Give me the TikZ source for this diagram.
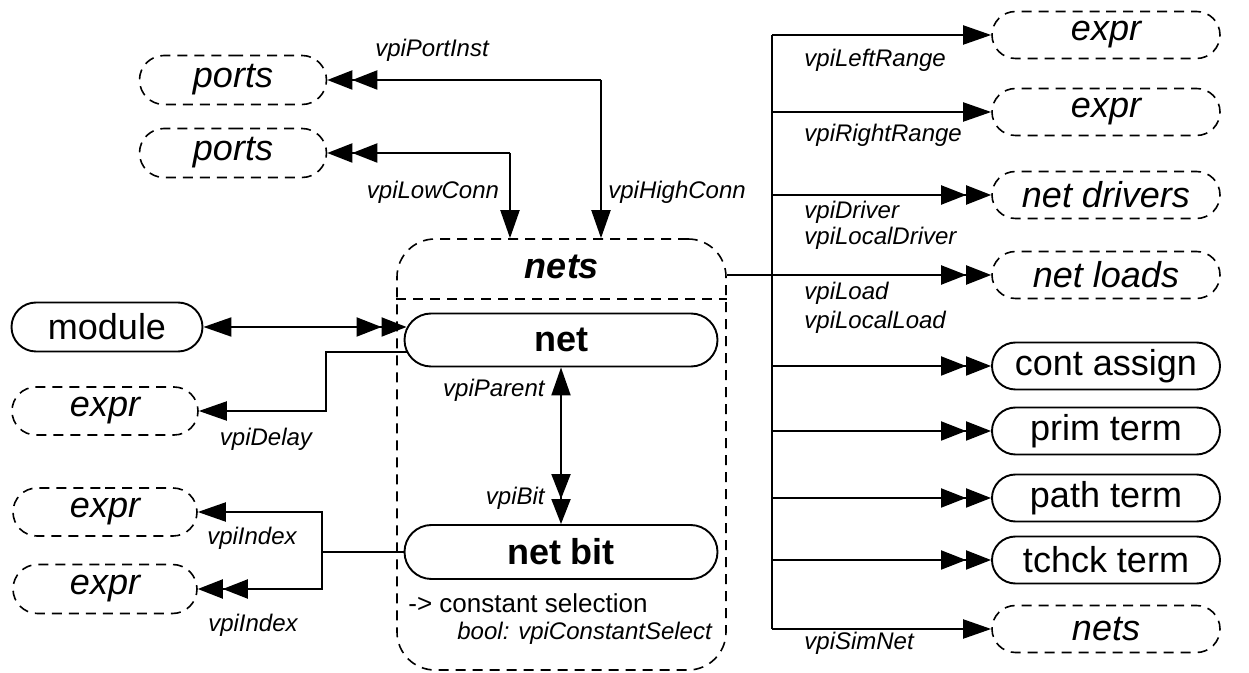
\documentclass[tikz,border=0pt]{standalone}
\usepackage{fontspec}
\setmainfont{Liberation Sans}
\usetikzlibrary{arrows.meta,shapes.misc}
\begin{document}
\begin{tikzpicture}[x=0.5pt,y=-0.5pt,
  conn/.style={line width=1pt},
  sgl/.style={conn,-{Triangle[length=14pt,width=9.5pt]}},
  dbl/.style={conn,-{Triangle[length=12.5pt,width=9.5pt]Triangle[length=12.5pt,width=9.5pt]}},
  solidbox/.style={draw,line width=0.95pt,rounded rectangle,inner sep=0pt,
    minimum width=114pt,minimum height=23.5pt,font=\fontsize{18}{20}\selectfont},
  dashbox/.style={draw,line width=0.8pt,dash pattern=on 5pt off 3.5pt,rounded rectangle,
    inner sep=0pt,minimum width=114pt,minimum height=23.5pt,font=\fontsize{18}{20}\selectfont\itshape},
  lbl/.style={inner sep=0pt,font=\fontsize{12}{14}\selectfont\itshape},
]
\useasboundingbox (0,0) rectangle (1249,673);

% container
\node[draw,line width=0.8pt,dash pattern=on 5pt off 3.5pt,rounded corners=19pt,
  minimum width=164.5pt,minimum height=215.5pt,inner sep=0pt] (nets) at (561.5,454.5) {};
\node[inner sep=0pt,font=\fontsize{18}{20}\selectfont\bfseries\itshape] (netstitle) at (562,267) {nets};
\draw[line width=0.8pt,dash pattern=on 5pt off 3.5pt] (nets.west |- 0,299) -- (nets.east |- 0,299);

% left side nodes
\node[dashbox,minimum width=93.5pt,minimum height=24.5pt] (ports1) at (233,80) {ports};
\node[dashbox,minimum width=93.5pt,minimum height=24.5pt] (ports2) at (233,153) {ports};
\node[solidbox,minimum width=95.5pt,minimum height=24.5pt] (module) at (107,327) {module};
\node[dashbox,minimum width=93pt,minimum height=24pt] (exprD) at (105,411) {expr};
\node[dashbox,minimum width=92pt,minimum height=24pt] (exprI1) at (105,512) {expr};
\node[dashbox,minimum width=92pt,minimum height=24.5pt] (exprI2) at (105,589) {expr};

% inner nodes
\node[solidbox,minimum width=156.5pt,minimum height=26.5pt,font=\fontsize{18}{20}\selectfont\bfseries] (net) at (561,340) {net};
\node[solidbox,minimum width=156.5pt,minimum height=27pt,font=\fontsize{18}{20}\selectfont\bfseries] (netbit) at (561,552) {net bit};
\node[anchor=west,inner sep=0pt,font=\fontsize{13}{15}\selectfont] (cs) at (408,603) {-> constant selection};
\node[lbl,anchor=west] (bcs) at (457,633) {bool: vpiConstantSelect};

% right nodes
\node[dashbox] (eL) at (1106,35) {expr};
\node[dashbox] (eR) at (1106,112) {expr};
\node[dashbox] (nd) at (1106,195) {net drivers};
\node[dashbox] (nl) at (1106,275) {net loads};
\node[solidbox] (ca) at (1106,366) {cont assign};
\node[solidbox] (pt) at (1106,431) {prim term};
\node[solidbox] (pa) at (1106,498) {path term};
\node[solidbox] (tc) at (1106,560) {tchck term};
\node[dashbox] (sn) at (1106,629) {nets};

% top connectors
\coordinate (jH) at (601,80);
\coordinate (jL) at (510,153);
\draw[dbl] (jH) -- (ports1.east);
\draw[sgl] (jH) -- (jH |- nets.north);
\draw[dbl] (jL) -- (ports2.east);
\draw[sgl] (jL) -- (jL |- nets.north);
\node[lbl] (lPI) at (432,50) {vpiPortInst};
\node[lbl] (lLC) at (433,192) {vpiLowConn};
\node[lbl,anchor=west] (lHC) at (608,192) {vpiHighConn};

% module
\draw[conn,{Triangle[length=14pt,width=9.5pt]}-{Triangle[length=12.5pt,width=9.5pt]Triangle[length=12.5pt,width=9.5pt]}]
  (module.east) -- ([xshift=1.5pt]module.east -| net.west);

% delay
\coordinate (dS) at (407,352);
\coordinate (kD) at (326,352);
\draw[sgl] (dS) -- (kD) |- (exprD.east);
\node[lbl] (lD) at (266,439) {vpiDelay};

% index
\coordinate (kI) at (322,552);
\draw[conn] (netbit.west) -- (kI);
\draw[sgl] (kI) |- (exprI1.east);
\draw[dbl] (kI) |- (exprI2.east);
\node[lbl] (lI1) at (252,538) {vpiIndex};
\node[lbl] (lI2) at (253,625) {vpiIndex};

% parent / bit
\draw[conn,{Triangle[length=14pt,width=9.5pt]}-{Triangle[length=12.5pt,width=9.5pt]Triangle[length=12.5pt,width=9.5pt]}]
  (net.south) -- (netbit.north);
\node[lbl,anchor=east] (lP) at (545,390) {vpiParent};
\node[lbl,anchor=east] (lB) at (545,498) {vpiBit};

% right trunk
\coordinate (tr) at (772,35);
\draw[conn] (tr |- eL.west) -- (tr |- sn.west);
\draw[conn] (nets.east |- nl.west) -- (tr |- nl.west);
\draw[sgl] (tr |- eL.west) -- (eL.west);
\draw[sgl] (tr |- eR.west) -- (eR.west);
\draw[dbl] (tr |- nd.west) -- (nd.west);
\draw[dbl] (tr |- nl.west) -- (nl.west);
\draw[dbl] (tr |- ca.west) -- (ca.west);
\draw[dbl] (tr |- pt.west) -- (pt.west);
\draw[dbl] (tr |- pa.west) -- (pa.west);
\draw[dbl] (tr |- tc.west) -- (tc.west);
\draw[sgl] (tr |- sn.west) -- (sn.west);

\node[lbl,anchor=west] (lLR) at (804,60) {vpiLeftRange};
\node[lbl,anchor=west] (lRR) at (804,135) {vpiRightRange};
\node[lbl,anchor=west] (lDr) at (804,212) {vpiDriver};
\node[lbl,anchor=west] (lLDr) at (804,238) {vpiLocalDriver};
\node[lbl,anchor=west] (lLo) at (804,293) {vpiLoad};
\node[lbl,anchor=west] (lLLo) at (804,322) {vpiLocalLoad};
\node[lbl,anchor=west] (lSN) at (804,643) {vpiSimNet};
\end{tikzpicture}
\end{document}
